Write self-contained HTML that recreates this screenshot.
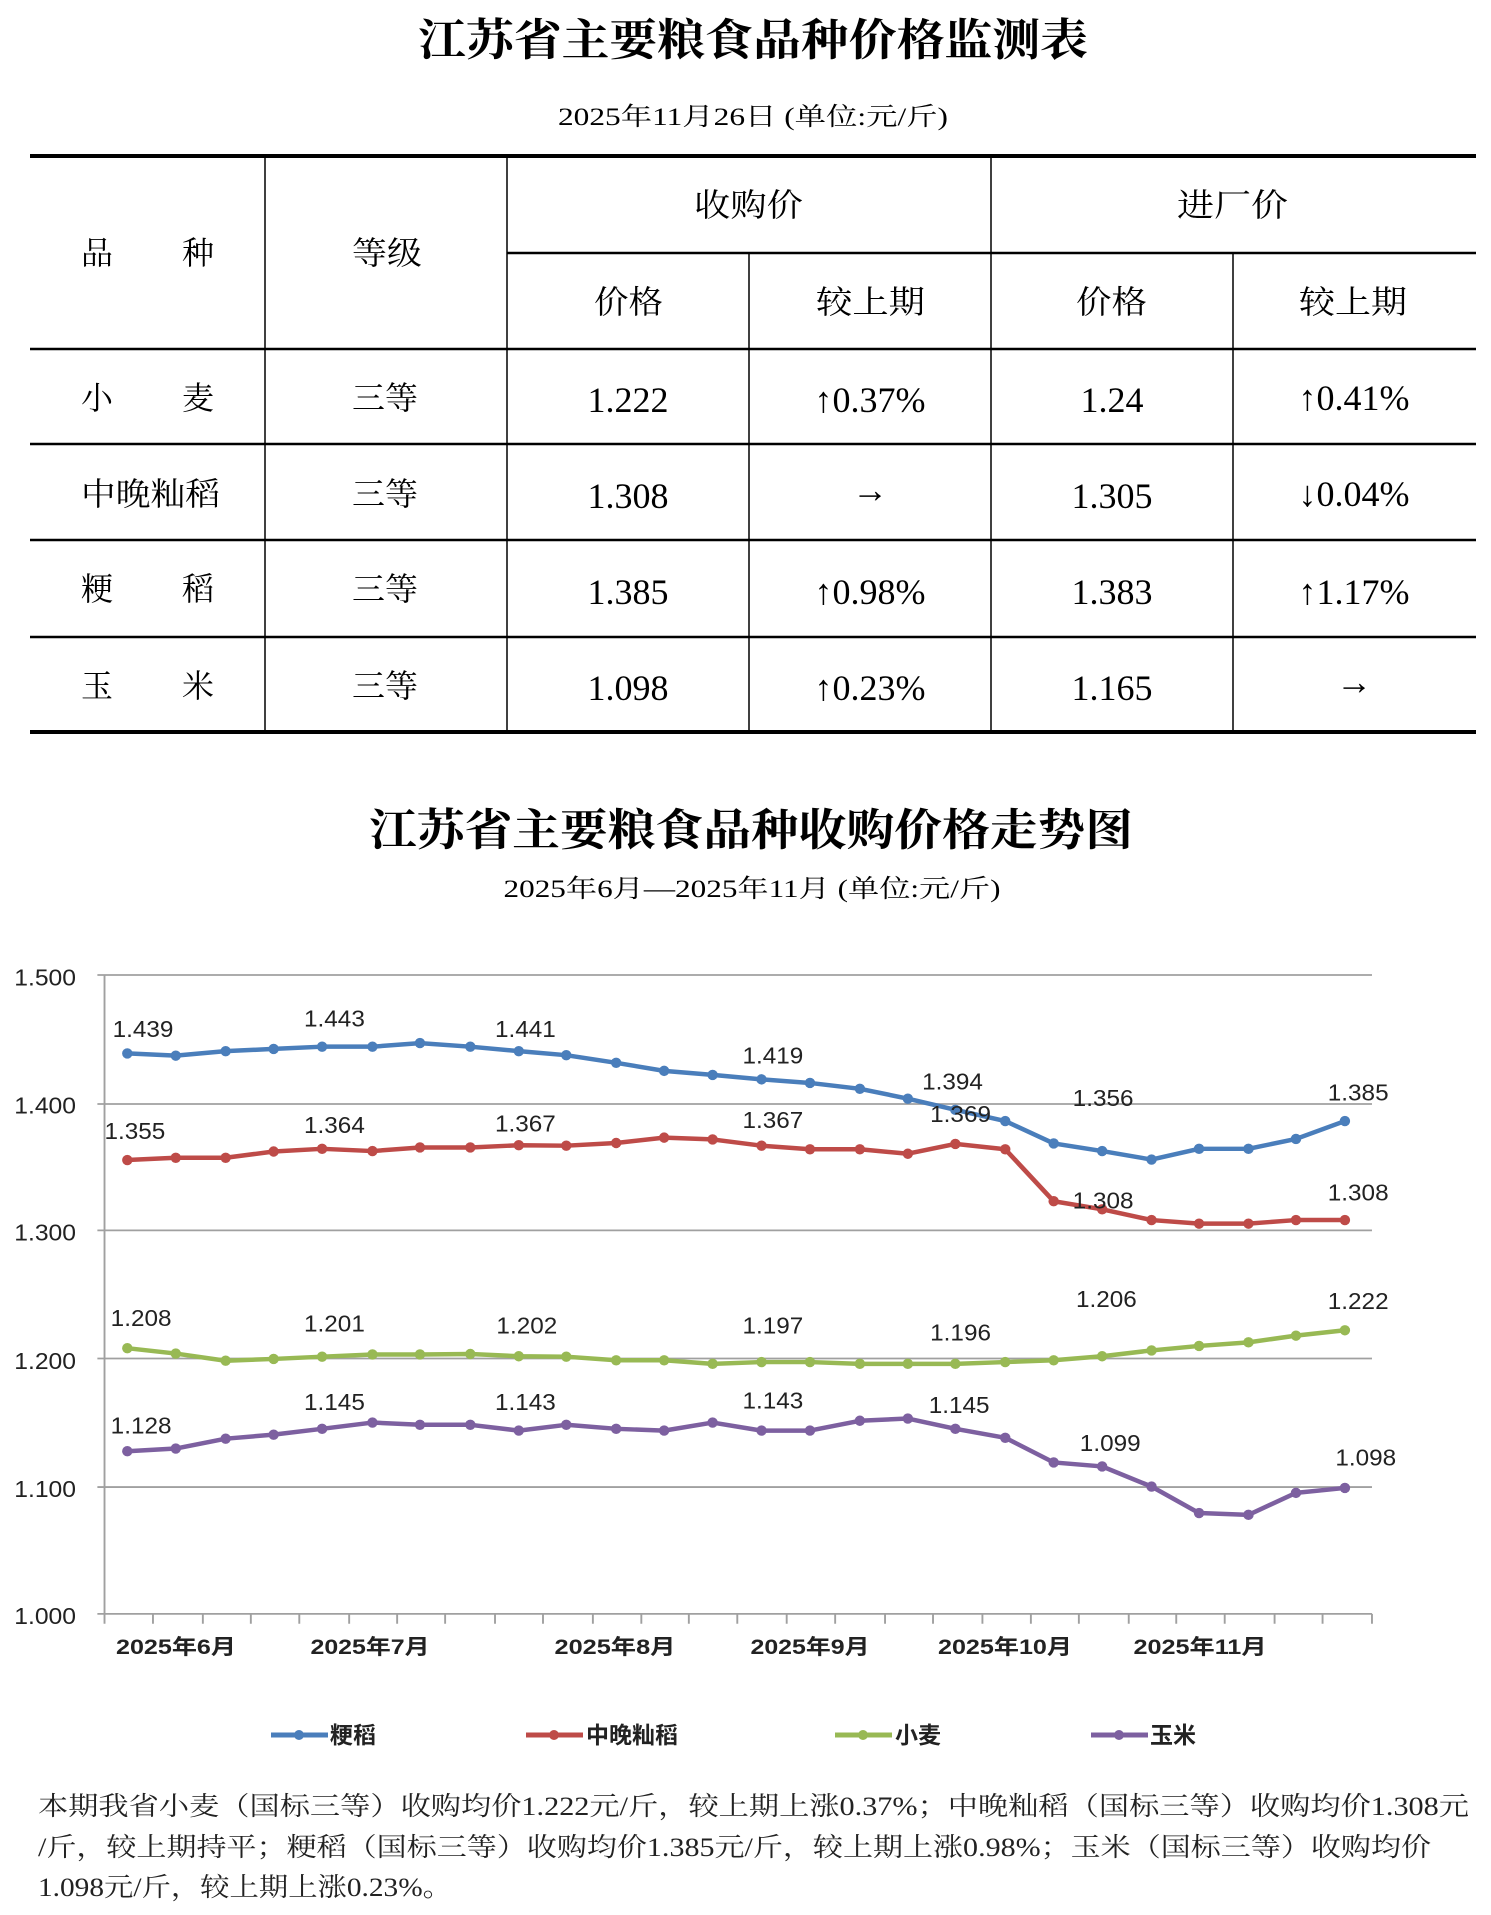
<!DOCTYPE html>
<html><head><meta charset="utf-8"><style>
html,body{margin:0;padding:0;background:#fff;}
svg{display:block;}
.s{font-family:"Liberation Serif","Noto Serif CJK SC",serif;}
.h{font-family:"Liberation Serif","Noto Serif CJK SC",serif;font-weight:bold;}
.a{font-family:"Liberation Sans","Noto Sans CJK SC",sans-serif;}
</style></head><body>
<svg width="1491" height="1915" viewBox="0 0 1491 1915" xmlns="http://www.w3.org/2000/svg">
<defs>
<marker id="mb" markerUnits="userSpaceOnUse" markerWidth="30" markerHeight="30" refX="15" refY="15"><ellipse cx="15" cy="15" rx="11" ry="11.6" fill="#4a7ebb"/></marker>
<marker id="mr" markerUnits="userSpaceOnUse" markerWidth="30" markerHeight="30" refX="15" refY="15"><ellipse cx="15" cy="15" rx="11" ry="11.6" fill="#be4b48"/></marker>
<marker id="mg" markerUnits="userSpaceOnUse" markerWidth="30" markerHeight="30" refX="15" refY="15"><ellipse cx="15" cy="15" rx="11" ry="11.6" fill="#98b954"/></marker>
<marker id="mp" markerUnits="userSpaceOnUse" markerWidth="30" markerHeight="30" refX="15" refY="15"><ellipse cx="15" cy="15" rx="11" ry="11.6" fill="#7d60a0"/></marker>
</defs>
<rect width="1491" height="1915" fill="#fff"/>
<text class="h" x="753" y="55" font-size="44" text-anchor="middle" textLength="670" lengthAdjust="spacingAndGlyphs">江苏省主要粮食品种价格监测表</text>
<text class="s" x="753" y="125" font-size="25" text-anchor="middle" textLength="390" lengthAdjust="spacingAndGlyphs">2025年11月26日 (单位:元/斤)</text>
<g stroke="#000" fill="none">
<line x1="30" y1="156" x2="1476" y2="156" stroke-width="4"/>
<line x1="507" y1="253" x2="1476" y2="253" stroke-width="2.5"/>
<line x1="30" y1="349" x2="1476" y2="349" stroke-width="2.5"/>
<line x1="30" y1="444" x2="1476" y2="444" stroke-width="2.5"/>
<line x1="30" y1="540" x2="1476" y2="540" stroke-width="2.5"/>
<line x1="30" y1="637" x2="1476" y2="637" stroke-width="2.5"/>
<line x1="30" y1="732" x2="1476" y2="732" stroke-width="4"/>
<line x1="265" y1="156" x2="265" y2="732" stroke-width="1.5"/>
<line x1="507" y1="156" x2="507" y2="732" stroke-width="1.5"/>
<line x1="749" y1="253" x2="749" y2="732" stroke-width="1.5"/>
<line x1="991" y1="156" x2="991" y2="732" stroke-width="1.5"/>
<line x1="1233" y1="253" x2="1233" y2="732" stroke-width="1.5"/>
</g>
<g class="s" font-size="32" fill="#000">
<text x="81" y="264">品</text><text x="182" y="264">种</text>
<text x="352" y="264" textLength="70" lengthAdjust="spacingAndGlyphs">等级</text>
<text x="694" y="216" textLength="109" lengthAdjust="spacingAndGlyphs">收购价</text>
<text x="1177" y="216" textLength="111" lengthAdjust="spacingAndGlyphs">进厂价</text>
<text x="594" y="313" textLength="69" lengthAdjust="spacingAndGlyphs">价格</text>
<text x="816" y="313" textLength="109" lengthAdjust="spacingAndGlyphs">较上期</text>
<text x="1076" y="313" textLength="71" lengthAdjust="spacingAndGlyphs">价格</text>
<text x="1299" y="313" textLength="108" lengthAdjust="spacingAndGlyphs">较上期</text>
<text x="81" y="409">小</text><text x="182" y="409">麦</text>
<text x="81" y="505" textLength="139" lengthAdjust="spacingAndGlyphs">中晚籼稻</text>
<text x="81" y="600">粳</text><text x="182" y="600">稻</text>
<text x="81" y="697">玉</text><text x="182" y="697">米</text>
<text x="352" y="409" textLength="66" lengthAdjust="spacingAndGlyphs">三等</text>
<text x="352" y="505" textLength="66" lengthAdjust="spacingAndGlyphs">三等</text>
<text x="352" y="600" textLength="66" lengthAdjust="spacingAndGlyphs">三等</text>
<text x="352" y="697" textLength="66" lengthAdjust="spacingAndGlyphs">三等</text>
</g>
<g class="s" font-size="36" fill="#000" text-anchor="middle">
<text x="628" y="412">1.222</text><text x="870" y="412">↑0.37%</text><text x="1112" y="412">1.24</text><text x="1354" y="410">↑0.41%</text>
<text x="628" y="508">1.308</text><text x="870" y="502">→</text><text x="1112" y="508">1.305</text><text x="1354" y="506">↓0.04%</text>
<text x="628" y="604">1.385</text><text x="870" y="604">↑0.98%</text><text x="1112" y="604">1.383</text><text x="1354" y="604">↑1.17%</text>
<text x="628" y="700">1.098</text><text x="870" y="700">↑0.23%</text><text x="1112" y="700">1.165</text><text x="1354" y="694">→</text>
</g>
<text class="h" x="751" y="845" font-size="44" text-anchor="middle" textLength="764" lengthAdjust="spacingAndGlyphs">江苏省主要粮食品种收购价格走势图</text>
<text class="s" x="752" y="897" font-size="25" text-anchor="middle" textLength="497" lengthAdjust="spacingAndGlyphs">2025年6月—2025年11月 (单位:元/斤)</text>
<g transform="translate(0,940.5) scale(0.47506,0.448)">
<g stroke="#a0a0a0" stroke-width="4">
<line x1="205" y1="77" x2="2888" y2="77"/>
<line x1="205" y1="365" x2="2888" y2="365"/>
<line x1="205" y1="647" x2="2888" y2="647"/>
<line x1="205" y1="933" x2="2888" y2="933"/>
<line x1="205" y1="1220" x2="2888" y2="1220"/>
<line x1="205" y1="1503" x2="2888" y2="1503"/>
<line x1="220" y1="77" x2="220" y2="1503"/>
<path d="M220 1503v22M322 1503v22M427 1503v22M528 1503v22M630 1503v22M735 1503v22M836 1503v22M937 1503v22M1042 1503v22M1143 1503v22M1248 1503v22M1350 1503v22M1450 1503v22M1552 1503v22M1656 1503v22M1758 1503v22M1863 1503v22M1964 1503v22M2068 1503v22M2170 1503v22M2271 1503v22M2376 1503v22M2476 1503v22M2578 1503v22M2683 1503v22M2784 1503v22M2888 1503v22"/>
</g>
<g class="a" font-size="52" fill="#222">
<text x="30" y="100" textLength="130" lengthAdjust="spacingAndGlyphs">1.500</text>
<text x="30" y="386" textLength="130" lengthAdjust="spacingAndGlyphs">1.400</text>
<text x="30" y="670" textLength="130" lengthAdjust="spacingAndGlyphs">1.300</text>
<text x="30" y="956" textLength="130" lengthAdjust="spacingAndGlyphs">1.200</text>
<text x="30" y="1242" textLength="130" lengthAdjust="spacingAndGlyphs">1.100</text>
<text x="30" y="1526" textLength="130" lengthAdjust="spacingAndGlyphs">1.000</text>
</g>
<g fill="none" stroke-width="10" stroke-linejoin="round">
<polyline stroke="#4a7ebb" marker-start="url(#mb)" marker-mid="url(#mb)" marker-end="url(#mb)" points="268,252 370,257 475,247 576,242 678,237 784,237 884,229 990,237 1092,247 1192,256 1297,273 1398,291 1500,300 1603,310 1705,318 1810,331 1911,353 2011,378 2116,403 2218,453 2320,470 2424,489 2524,465 2628,465 2728,443 2831,403"/>
<polyline stroke="#be4b48" marker-start="url(#mr)" marker-mid="url(#mr)" marker-end="url(#mr)" points="268,490 370,485 475,485 576,471 678,465 784,470 884,462 990,462 1092,457 1192,458 1297,452 1398,440 1500,444 1603,458 1705,466 1810,466 1911,476 2011,454 2116,466 2218,582 2320,600 2424,624 2524,632 2628,632 2728,624 2831,624"/>
<polyline stroke="#98b954" marker-start="url(#mg)" marker-mid="url(#mg)" marker-end="url(#mg)" points="268,910 370,922 475,938 576,934 678,929 784,924 884,924 990,923 1092,928 1192,929 1297,937 1398,937 1500,945 1603,941 1705,941 1810,945 1911,945 2011,945 2116,941 2218,937 2320,928 2424,915 2524,905 2628,897 2728,882 2831,870"/>
<polyline stroke="#7d60a0" marker-start="url(#mp)" marker-mid="url(#mp)" marker-end="url(#mp)" points="268,1140 370,1134 475,1112 576,1103 678,1090 784,1076 884,1081 990,1081 1092,1094 1192,1081 1297,1090 1398,1094 1500,1076 1603,1094 1705,1094 1810,1072 1911,1067 2011,1090 2116,1110 2218,1165 2320,1174 2424,1219 2524,1278 2628,1282 2728,1233 2831,1222"/>
</g>
<g class="a" font-size="52" fill="#222">
<text x="237" y="215" textLength="128" lengthAdjust="spacingAndGlyphs">1.439</text>
<text x="640" y="192" textLength="128" lengthAdjust="spacingAndGlyphs">1.443</text>
<text x="1042" y="215" textLength="128" lengthAdjust="spacingAndGlyphs">1.441</text>
<text x="1563" y="275" textLength="128" lengthAdjust="spacingAndGlyphs">1.419</text>
<text x="1941" y="333" textLength="128" lengthAdjust="spacingAndGlyphs">1.394</text>
<text x="2258" y="370" textLength="128" lengthAdjust="spacingAndGlyphs">1.356</text>
<text x="2795" y="357" textLength="128" lengthAdjust="spacingAndGlyphs">1.385</text>
<text x="220" y="443" textLength="128" lengthAdjust="spacingAndGlyphs">1.355</text>
<text x="640" y="430" textLength="128" lengthAdjust="spacingAndGlyphs">1.364</text>
<text x="1042" y="426" textLength="128" lengthAdjust="spacingAndGlyphs">1.367</text>
<text x="1563" y="418" textLength="128" lengthAdjust="spacingAndGlyphs">1.367</text>
<text x="1958" y="405" textLength="128" lengthAdjust="spacingAndGlyphs">1.369</text>
<text x="2258" y="598" textLength="128" lengthAdjust="spacingAndGlyphs">1.308</text>
<text x="2795" y="580" textLength="128" lengthAdjust="spacingAndGlyphs">1.308</text>
<text x="233" y="860" textLength="128" lengthAdjust="spacingAndGlyphs">1.208</text>
<text x="640" y="873" textLength="128" lengthAdjust="spacingAndGlyphs">1.201</text>
<text x="1045" y="877" textLength="128" lengthAdjust="spacingAndGlyphs">1.202</text>
<text x="1563" y="877" textLength="128" lengthAdjust="spacingAndGlyphs">1.197</text>
<text x="1958" y="893" textLength="128" lengthAdjust="spacingAndGlyphs">1.196</text>
<text x="2265" y="818" textLength="128" lengthAdjust="spacingAndGlyphs">1.206</text>
<text x="2795" y="823" textLength="128" lengthAdjust="spacingAndGlyphs">1.222</text>
<text x="233" y="1100" textLength="128" lengthAdjust="spacingAndGlyphs">1.128</text>
<text x="640" y="1048" textLength="128" lengthAdjust="spacingAndGlyphs">1.145</text>
<text x="1042" y="1048" textLength="128" lengthAdjust="spacingAndGlyphs">1.143</text>
<text x="1563" y="1045" textLength="128" lengthAdjust="spacingAndGlyphs">1.143</text>
<text x="1955" y="1055" textLength="128" lengthAdjust="spacingAndGlyphs">1.145</text>
<text x="2273" y="1140" textLength="128" lengthAdjust="spacingAndGlyphs">1.099</text>
<text x="2811" y="1172" textLength="128" lengthAdjust="spacingAndGlyphs">1.098</text>
</g>
</g>
<g class="a" font-size="21" font-weight="bold" fill="#222" text-anchor="middle">
<text x="176" y="1654" textLength="120" lengthAdjust="spacingAndGlyphs">2025年6月</text>
<text x="370" y="1654" textLength="119" lengthAdjust="spacingAndGlyphs">2025年7月</text>
<text x="615" y="1654" textLength="121" lengthAdjust="spacingAndGlyphs">2025年8月</text>
<text x="810" y="1654" textLength="119" lengthAdjust="spacingAndGlyphs">2025年9月</text>
<text x="1005" y="1654" textLength="134" lengthAdjust="spacingAndGlyphs">2025年10月</text>
<text x="1200" y="1654" textLength="133" lengthAdjust="spacingAndGlyphs">2025年11月</text>
</g>
<g stroke-width="5">
<line x1="271" y1="1735" x2="328" y2="1735" stroke="#4a7ebb"/><circle cx="299" cy="1735" r="5" fill="#4a7ebb"/>
<line x1="526" y1="1735" x2="583" y2="1735" stroke="#be4b48"/><circle cx="554" cy="1735" r="5" fill="#be4b48"/>
<line x1="835" y1="1735" x2="892" y2="1735" stroke="#98b954"/><circle cx="863" cy="1735" r="5" fill="#98b954"/>
<line x1="1091" y1="1735" x2="1148" y2="1735" stroke="#7d60a0"/><circle cx="1119" cy="1735" r="5" fill="#7d60a0"/>
</g>
<g class="a" font-size="23" font-weight="bold" fill="#222">
<text x="330" y="1743">粳稻</text>
<text x="586" y="1743">中晚籼稻</text>
<text x="895" y="1743">小麦</text>
<text x="1150" y="1743">玉米</text>
</g>
<g class="s" font-size="26" fill="#222">
<text x="38" y="1815" textLength="1431" lengthAdjust="spacingAndGlyphs">本期我省小麦（国标三等）收购均价1.222元/斤，较上期上涨0.37%；中晚籼稻（国标三等）收购均价1.308元</text>
<text x="38" y="1856" textLength="1393" lengthAdjust="spacingAndGlyphs">/斤，较上期持平；粳稻（国标三等）收购均价1.385元/斤，较上期上涨0.98%；玉米（国标三等）收购均价</text>
<text x="38" y="1896" textLength="414" lengthAdjust="spacingAndGlyphs">1.098元/斤，较上期上涨0.23%。</text>
</g>
</svg>
</body></html>
